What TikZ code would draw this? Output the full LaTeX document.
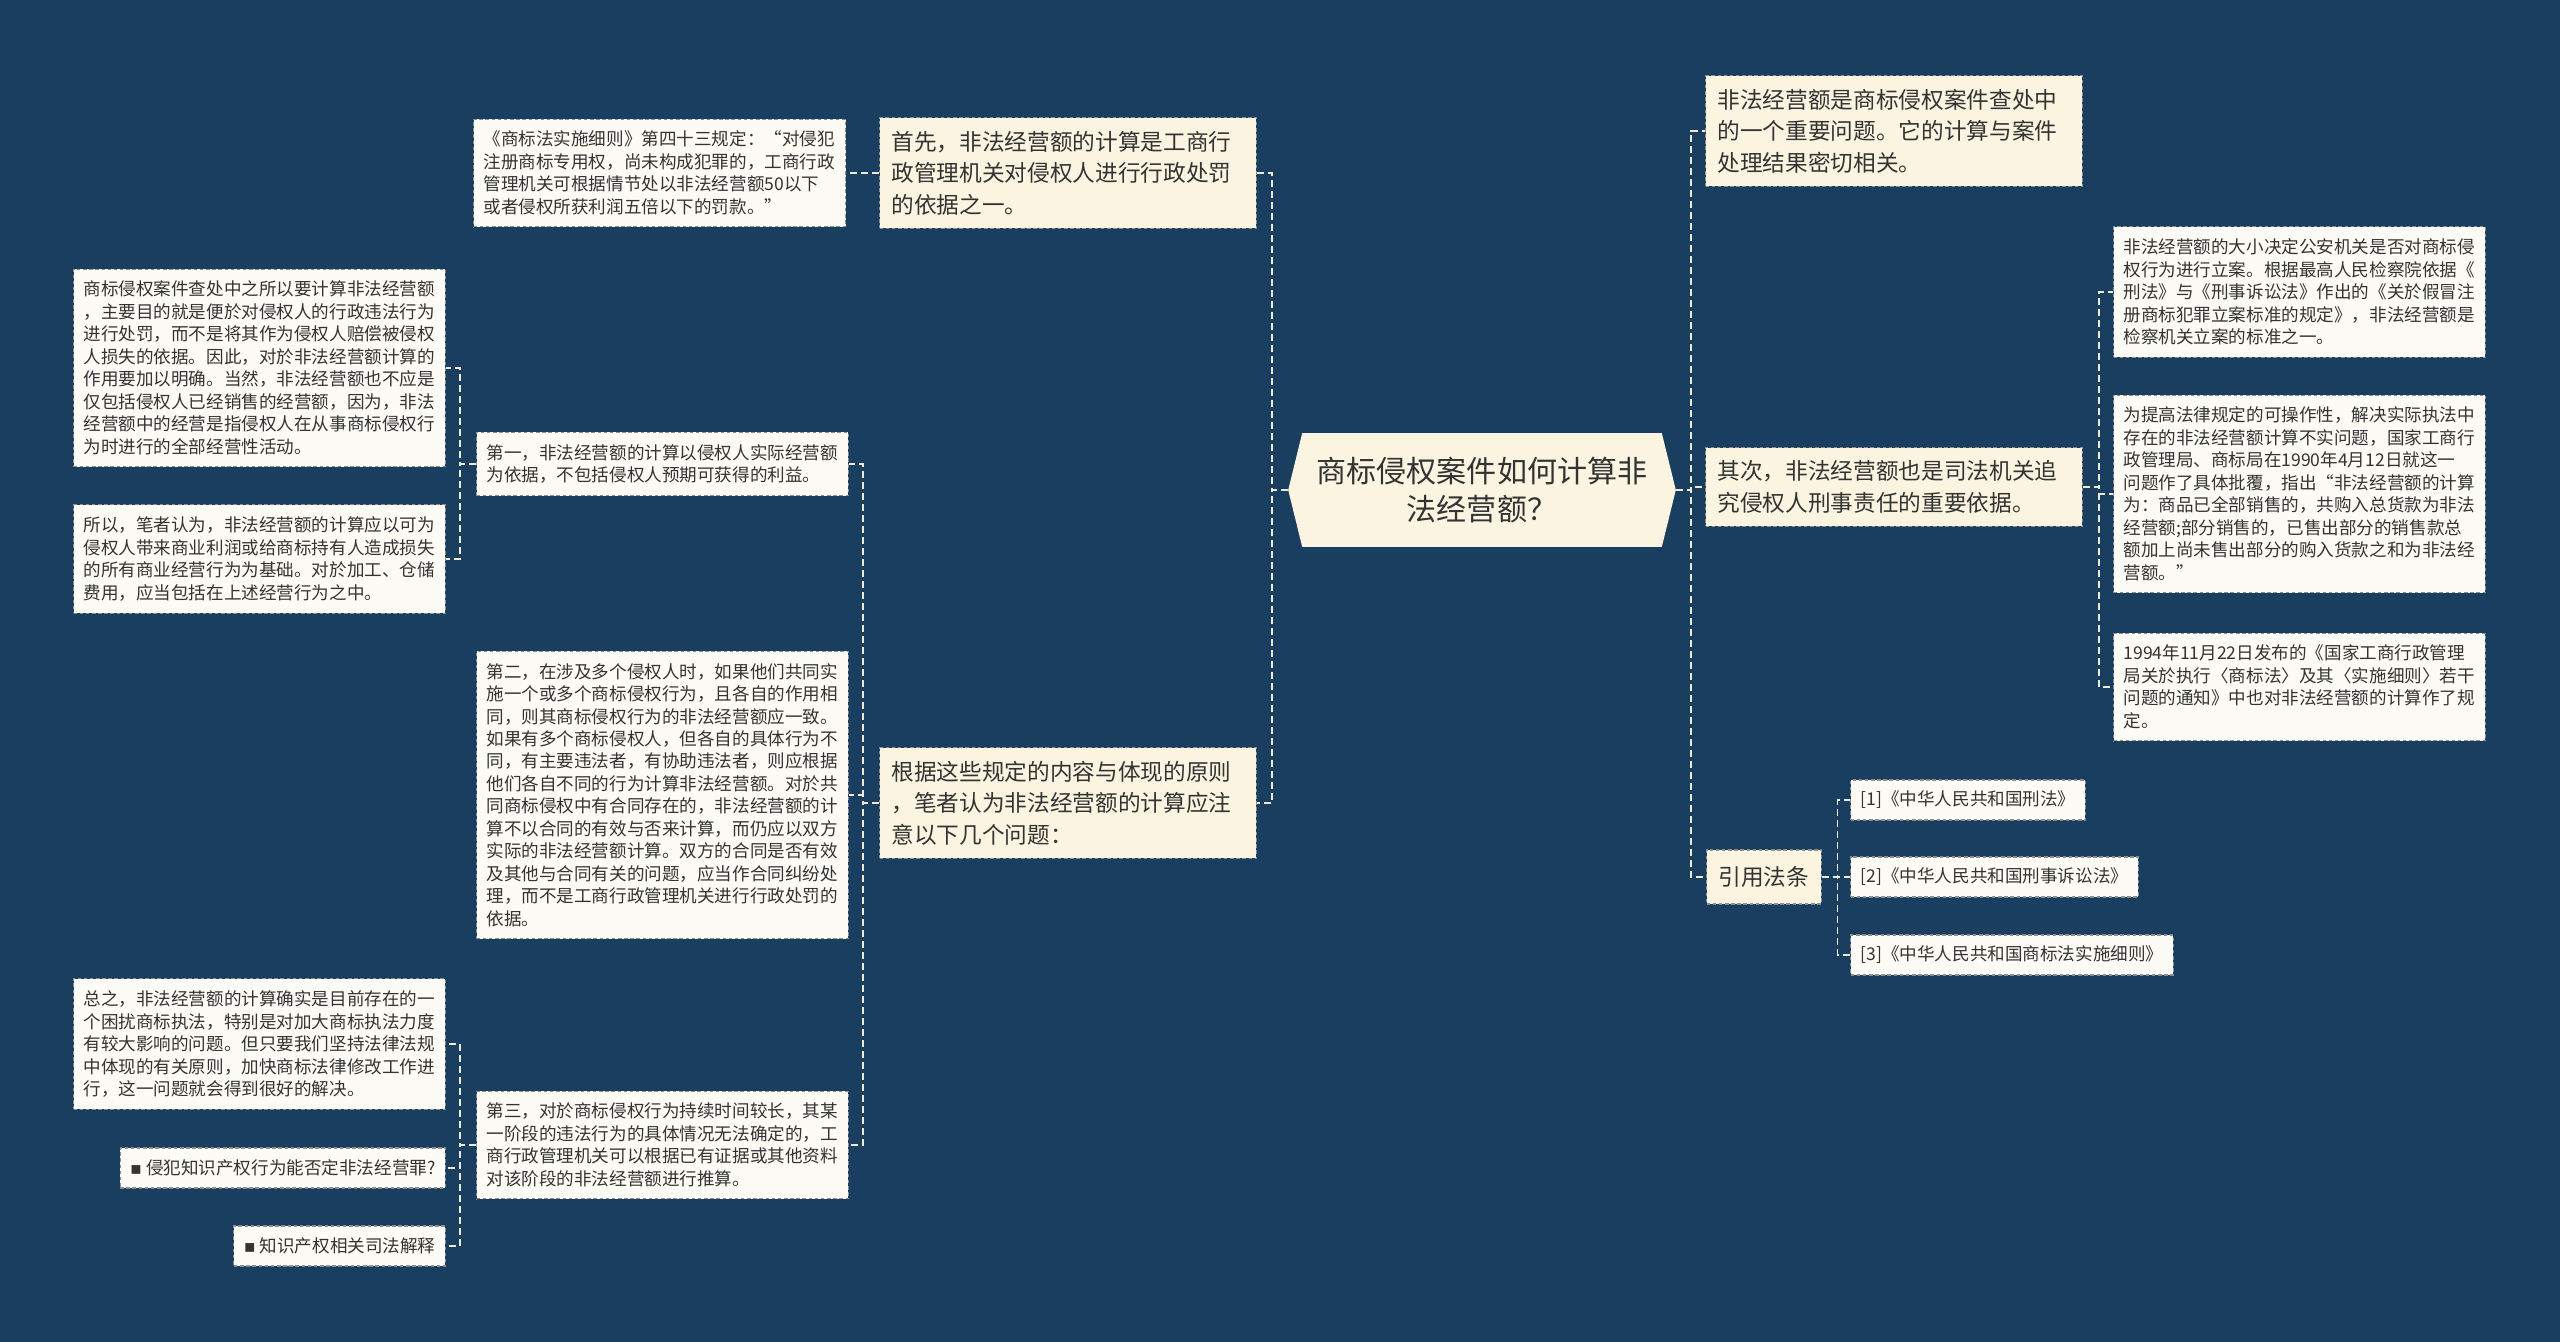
\documentclass[tikz,border=0pt]{standalone}
\usepackage{fontspec}
\setmainfont{Noto Sans CJK SC}
\newfontfamily\symfont{DejaVu Sans}
\usepackage{xcolor}
\usetikzlibrary{positioning,backgrounds}
\definecolor{navy}{HTML}{1A3E5F}
\definecolor{cream}{HTML}{FAF4E0}
\definecolor{paper}{HTML}{FCFBF6}
\definecolor{ink}{HTML}{333333}
\definecolor{edge}{HTML}{8E8E8E}
\definecolor{wire}{HTML}{EFEAD6}
\newcommand{\sqbullet}{{\symfont\color{ink}▪}\ }

\begin{document}
\begin{tikzpicture}[
    x=0.02cm, y=-0.02cm,
    node distance=0.66cm,
    box/.style={draw=edge,line width=0.6pt,dash pattern=on 2pt off 1.5pt,text=ink},
    big/.style={box,fill=cream,font=\fontsize{12.9pt}{18pt}\selectfont,
                text width=7.06cm,align=left,inner xsep=0.24cm,inner ysep=0.26cm},
    leaf/.style={box,fill=paper,font=\fontsize{10pt}{12.8pt}\selectfont,
                 text width=7.04cm,align=left,inner xsep=0.2cm,inner ysep=0.24cm},
    tag/.style={box,fill=paper,font=\fontsize{10pt}{12.8pt}\selectfont,
                inner xsep=0.2cm,inner ysep=0.17cm,minimum height=0.8cm},
    link/.style={draw=wire,line width=0.8pt,dash pattern=on 0.14cm off 0.08cm}
  ]
    % centre
    \node[text=ink,align=center,minimum width=7.74cm,minimum height=2.26cm,inner sep=0pt,
          font=\fontsize{17.1pt}{21.6pt}\selectfont] (centre) at (1482,490)
         {商标侵权案件如何计算非\\法经营额？};

    % left branch
    \node[big,anchor=east] (first) at (1257,173)
         {首先，非法经营额的计算是工商行\\政管理机关对侵权人进行行政处罚\\的依据之一。};
    \node[big,anchor=east] (basis) at (1257,803)
         {根据这些规定的内容与体现的原则\\，笔者认为非法经营额的计算应注\\意以下几个问题：};

    \node[leaf,left=of first] (rule43)
         {《商标法实施细则》第四十三规定：“对侵犯\\注册商标专用权，尚未构成犯罪的，工商行政\\管理机关可根据情节处以非法经营额50以下\\或者侵权所获利润五倍以下的罚款。”};

    \node[leaf,anchor=east] (point1) at (849,464)
         {第一，非法经营额的计算以侵权人实际经营额\\为依据，不包括侵权人预期可获得的利益。};
    \node[leaf,anchor=east] (point2) at (849,795)
         {第二，在涉及多个侵权人时，如果他们共同实\\施一个或多个商标侵权行为，且各自的作用相\\同，则其商标侵权行为的非法经营额应一致。\\如果有多个商标侵权人，但各自的具体行为不\\同，有主要违法者，有协助违法者，则应根据\\他们各自不同的行为计算非法经营额。对於共\\同商标侵权中有合同存在的，非法经营额的计\\算不以合同的有效与否来计算，而仍应以双方\\实际的非法经营额计算。双方的合同是否有效\\及其他与合同有关的问题，应当作合同纠纷处\\理，而不是工商行政管理机关进行行政处罚的\\依据。};
    \node[leaf,anchor=east] (point3) at (849,1145)
         {第三，对於商标侵权行为持续时间较长，其某\\一阶段的违法行为的具体情况无法确定的，工\\商行政管理机关可以根据已有证据或其他资料\\对该阶段的非法经营额进行推算。};

    \node[leaf,anchor=east] (purpose) at (446,368)
         {商标侵权案件查处中之所以要计算非法经营额\\，主要目的就是便於对侵权人的行政违法行为\\进行处罚，而不是将其作为侵权人赔偿被侵权\\人损失的依据。因此，对於非法经营额计算的\\作用要加以明确。当然，非法经营额也不应是\\仅包括侵权人已经销售的经营额，因为，非法\\经营额中的经营是指侵权人在从事商标侵权行\\为时进行的全部经营性活动。};
    \node[leaf,anchor=east] (author) at (446,559)
         {所以，笔者认为，非法经营额的计算应以可为\\侵权人带来商业利润或给商标持有人造成损失\\的所有商业经营行为为基础。对於加工、仓储\\费用，应当包括在上述经营行为之中。};

    \node[leaf,anchor=east] (summary) at (446,1044)
         {总之，非法经营额的计算确实是目前存在的一\\个困扰商标执法，特别是对加大商标执法力度\\有较大影响的问题。但只要我们坚持法律法规\\中体现的有关原则，加快商标法律修改工作进\\行，这一问题就会得到很好的解决。};
    \node[tag,anchor=east] (crime) at (446,1168) {\sqbullet 侵犯知识产权行为能否定非法经营罪?};
    \node[tag,anchor=east] (judicial) at (446,1246) {\sqbullet 知识产权相关司法解释};

    % right branch
    \node[big,anchor=west] (issue) at (1705,131)
         {非法经营额是商标侵权案件查处中\\的一个重要问题。它的计算与案件\\处理结果密切相关。};
    \node[big,anchor=west] (second) at (1705,487)
         {其次，非法经营额也是司法机关追\\究侵权人刑事责任的重要依据。};
    \node[big,anchor=west,text width=,align=center,minimum height=1.08cm,inner ysep=0.1cm]
         (laws) at (1706,877) {引用法条};

    \node[leaf,anchor=west] (filing) at (2113,292)
         {非法经营额的大小决定公安机关是否对商标侵\\权行为进行立案。根据最高人民检察院依据《\\刑法》与《刑事诉讼法》作出的《关於假冒注\\册商标犯罪立案标准的规定》，非法经营额是\\检察机关立案的标准之一。};
    \node[leaf,anchor=west] (reply) at (2113,494)
         {为提高法律规定的可操作性，解决实际执法中\\存在的非法经营额计算不实问题，国家工商行\\政管理局、商标局在1990年4月12日就这一\\问题作了具体批覆，指出“非法经营额的计算\\为：商品已全部销售的，共购入总货款为非法\\经营额;部分销售的，已售出部分的销售款总\\额加上尚未售出部分的购入货款之和为非法经\\营额。”};
    \node[leaf,anchor=west] (notice) at (2113,687)
         {1994年11月22日发布的《国家工商行政管理\\局关於执行〈商标法〉及其〈实施细则〉若干\\问题的通知》中也对非法经营额的计算作了规\\定。};

    \node[tag,anchor=west] (law1) at (1850,800) {[1]《中华人民共和国刑法》};
    \node[tag,anchor=west] (law2) at (1850,877) {[2]《中华人民共和国刑事诉讼法》};
    \node[tag,anchor=west] (law3) at (1850,955) {[3]《中华人民共和国商标法实施细则》};

    \begin{scope}[on background layer]
      \fill[navy] (0,0) rectangle (2560,1342);
      \fill[cream] (centre.west) -- ([xshift=0.28cm]centre.north west)
        -- ([xshift=-0.28cm]centre.north east) -- (centre.east)
        -- ([xshift=-0.28cm]centre.south east) -- ([xshift=0.28cm]centre.south west) -- cycle;
    \end{scope}

    % connectors
    \foreach \k in {first,basis}
      \draw[link] (centre.west) -- ++(-16,0) |- (\k.east);
    \foreach \k in {issue,second,laws}
      \draw[link] (centre.east) -- ++(15,0) |- (\k.west);
    \draw[link] (first.west) -- (rule43.east);
    \foreach \k in {point1,point2,point3}
      \draw[link] (basis.west) -- ++(-16,0) |- (\k.east);
    \foreach \k in {purpose,author}
      \draw[link] (point1.west) -- ++(-16,0) |- (\k.east);
    \foreach \k in {summary,crime,judicial}
      \draw[link] (point3.west) -- ++(-16,0) |- (\k.east);
    \foreach \k in {filing,reply,notice}
      \draw[link] (second.east) -- ++(16,0) |- (\k.west);
    \foreach \k in {law1,law2,law3}
      \draw[link] (laws.east) -- ++(16,0) |- (\k.west);
  \end{tikzpicture}
\end{document}
